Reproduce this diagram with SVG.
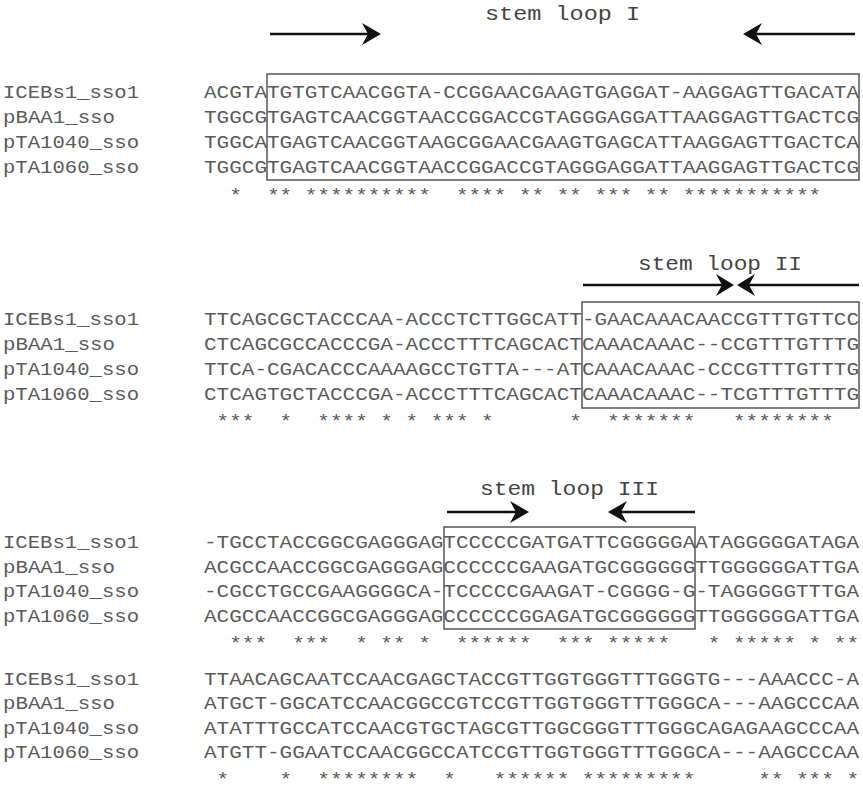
<svg xmlns="http://www.w3.org/2000/svg" width="863" height="800" viewBox="0 0 863 800">
<style>
text{font-family:"Liberation Mono","Courier New",monospace;fill:#5a5a5a;}
.s{font-size:18px;}
.t{font-size:21px;fill:#444;}
.box{fill:none;stroke:#555;stroke-width:1.5;}
.ar{stroke:#111;stroke-width:2.5;fill:none;}
.hd{fill:#111;stroke:none;}
</style>
<rect width="863" height="800" fill="#fff"/>
<g id="labels" class="s">
<text x="3" y="98" textLength="136" lengthAdjust="spacingAndGlyphs">ICEBs1_sso1</text>
<text x="3" y="123" textLength="112" lengthAdjust="spacingAndGlyphs">pBAA1_sso</text>
<text x="3" y="148" textLength="136" lengthAdjust="spacingAndGlyphs">pTA1040_sso</text>
<text x="3" y="173" textLength="136" lengthAdjust="spacingAndGlyphs">pTA1060_sso</text>
<text x="3" y="325" textLength="136" lengthAdjust="spacingAndGlyphs">ICEBs1_sso1</text>
<text x="3" y="350" textLength="112" lengthAdjust="spacingAndGlyphs">pBAA1_sso</text>
<text x="3" y="375" textLength="136" lengthAdjust="spacingAndGlyphs">pTA1040_sso</text>
<text x="3" y="400" textLength="136" lengthAdjust="spacingAndGlyphs">pTA1060_sso</text>
<text x="3" y="548" textLength="136" lengthAdjust="spacingAndGlyphs">ICEBs1_sso1</text>
<text x="3" y="573" textLength="112" lengthAdjust="spacingAndGlyphs">pBAA1_sso</text>
<text x="3" y="597" textLength="136" lengthAdjust="spacingAndGlyphs">pTA1040_sso</text>
<text x="3" y="622" textLength="136" lengthAdjust="spacingAndGlyphs">pTA1060_sso</text>
<text x="3" y="685" textLength="136" lengthAdjust="spacingAndGlyphs">ICEBs1_sso1</text>
<text x="3" y="709" textLength="112" lengthAdjust="spacingAndGlyphs">pBAA1_sso</text>
<text x="3" y="734" textLength="136" lengthAdjust="spacingAndGlyphs">pTA1040_sso</text>
<text x="3" y="758" textLength="136" lengthAdjust="spacingAndGlyphs">pTA1060_sso</text>
</g>
<g id="block1" class="s">
<text x="204" y="98" textLength="655" lengthAdjust="spacingAndGlyphs">ACGTATGTGTCAACGGTA-CCGGAACGAAGTGAGGAT-AAGGAGTTGACATA</text>
<text x="204" y="123" textLength="655" lengthAdjust="spacingAndGlyphs">TGGCGTGAGTCAACGGTAACCGGACCGTAGGGAGGATTAAGGAGTTGACTCG</text>
<text x="204" y="148" textLength="655" lengthAdjust="spacingAndGlyphs">TGGCATGAGTCAACGGTAAGCGGAACGAAGTGAGCATTAAGGAGTTGACTCA</text>
<text x="204" y="173" textLength="655" lengthAdjust="spacingAndGlyphs">TGGCGTGAGTCAACGGTAACCGGACCGTAGGGAGGATTAAGGAGTTGACTCG</text>
<text x="204" y="201" xml:space="preserve" textLength="655" lengthAdjust="spacingAndGlyphs">  *  ** **********  **** ** ** *** ** ***********   </text>
<rect class="box" x="267" y="74" width="592" height="106"/>
<text class="t" x="485" y="20" textLength="155" lengthAdjust="spacingAndGlyphs">stem loop I</text>
</g>
<g id="block2" class="s">
<text x="204" y="325" textLength="655" lengthAdjust="spacingAndGlyphs">TTCAGCGCTACCCAA-ACCCTCTTGGCATT-GAACAAACAACCGTTTGTTCC</text>
<text x="204" y="350" textLength="655" lengthAdjust="spacingAndGlyphs">CTCAGCGCCACCCGA-ACCCTTTCAGCACTCAAACAAAC--CCGTTTGTTTG</text>
<text x="204" y="375" textLength="655" lengthAdjust="spacingAndGlyphs">TTCA-CGACACCCAAAAGCCTGTTA---ATCAAACAAAC-CCCGTTTGTTTG</text>
<text x="204" y="400" textLength="655" lengthAdjust="spacingAndGlyphs">CTCAGTGCTACCCGA-ACCCTTTCAGCACTCAAACAAAC--TCGTTTGTTTG</text>
<text x="204" y="427" xml:space="preserve" textLength="655" lengthAdjust="spacingAndGlyphs"> ***  *  **** * * *** *      *  *******   ********  </text>
<rect class="box" x="582" y="302" width="277" height="106"/>
<text class="t" x="638" y="270" textLength="164" lengthAdjust="spacingAndGlyphs">stem loop II</text>
</g>
<g id="block3" class="s">
<text x="204" y="548" textLength="655" lengthAdjust="spacingAndGlyphs">-TGCCTACCGGCGAGGGAGTCCCCCGATGATTCGGGGGAATAGGGGGATAGA</text>
<text x="204" y="573" textLength="655" lengthAdjust="spacingAndGlyphs">ACGCCAACCGGCGAGGGAGCCCCCCGAAGATGCGGGGGGTTGGGGGGATTGA</text>
<text x="204" y="597" textLength="655" lengthAdjust="spacingAndGlyphs">-CGCCTGCCGAAGGGGCA-TCCCCCGAAGAT-CGGGG-G-TAGGGGGTTTGA</text>
<text x="204" y="622" textLength="655" lengthAdjust="spacingAndGlyphs">ACGCCAACCGGCGAGGGAGCCCCCCGGAGATGCGGGGGGTTGGGGGGATTGA</text>
<text x="204" y="649" xml:space="preserve" textLength="655" lengthAdjust="spacingAndGlyphs">  ***  ***  * ** *  ******  *** *****   * ***** * **</text>
<rect class="box" x="444" y="527" width="251" height="102"/>
<text class="t" x="480" y="495" textLength="179" lengthAdjust="spacingAndGlyphs">stem loop III</text>
</g>
<g id="block4" class="s">
<text x="204" y="685" textLength="655" lengthAdjust="spacingAndGlyphs">TTAACAGCAATCCAACGAGCTACCGTTGGTGGGTTTGGGTG---AAACCC-A</text>
<text x="204" y="709" textLength="655" lengthAdjust="spacingAndGlyphs">ATGCT-GGCATCCAACGGCCGTCCGTTGGTGGGTTTGGGCA---AAGCCCAA</text>
<text x="204" y="734" textLength="655" lengthAdjust="spacingAndGlyphs">ATATTTGCCATCCAACGTGCTAGCGTTGGCGGGTTTGGGCAGAGAAGCCCAA</text>
<text x="204" y="758" textLength="655" lengthAdjust="spacingAndGlyphs">ATGTT-GGAATCCAACGGCCATCCGTTGGTGGGTTTGGGCA---AAGCCCAA</text>
<text x="204" y="785" xml:space="preserve" textLength="655" lengthAdjust="spacingAndGlyphs"> *    *  ********  *   ****** *********     ** *** *</text>
</g>
<g id="connectors">
<line class="ar" x1="270" y1="34" x2="368" y2="34"/><polygon class="hd" points="381,34 362,23 368,34 362,45"/>
<line class="ar" x1="855" y1="34" x2="756" y2="34"/><polygon class="hd" points="743,34 762,23 756,34 762,45"/>
<line class="ar" x1="583" y1="285" x2="722" y2="285"/><polygon class="hd" points="734,285 716,274 722,285 716,296"/>
<line class="ar" x1="859" y1="285" x2="749" y2="285"/><polygon class="hd" points="737,285 755,274 749,285 755,296"/>
<line class="ar" x1="447" y1="512" x2="516" y2="512"/><polygon class="hd" points="529,512 510,501 516,512 510,523"/>
<line class="ar" x1="695" y1="512" x2="621" y2="512"/><polygon class="hd" points="608,512 627,501 621,512 627,523"/>
</g>
</svg>
